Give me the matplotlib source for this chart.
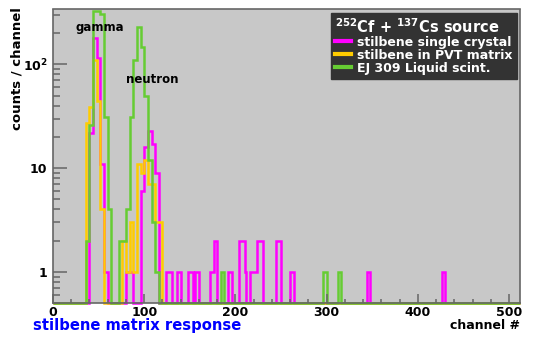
import numpy as np
import matplotlib
matplotlib.use("Agg")
import matplotlib.pyplot as plt
from matplotlib.lines import Line2D
from matplotlib.ticker import FixedLocator, FixedFormatter, MultipleLocator

# histogram contents: (first channel, last channel, counts per bin)
pink_runs = [
    (40, 44, 22), (44, 48, 178), (48, 52, 116), (52, 56, 11), (56, 60, 1),
    (80, 88, 1), (96, 100, 6), (100, 104, 16), (104, 108, 23), (108, 112, 17),
    (112, 116, 9), (124, 130, 1), (136, 140, 1), (148, 154, 1), (156, 160, 1),
    (172, 176, 1), (176, 180, 2), (192, 196, 1), (204, 210, 2), (210, 212, 1),
    (216, 224, 1), (224, 230, 2), (244, 250, 2), (260, 264, 1), (344, 348, 1),
    (426, 430, 1),
]
orange_runs = [
    (36, 40, 27), (40, 44, 39), (44, 48, 111), (48, 52, 44), (52, 56, 4),
    (76, 80, 2), (80, 84, 1), (84, 88, 3), (88, 92, 1), (92, 96, 11),
    (96, 100, 9), (100, 104, 12), (104, 112, 7), (112, 120, 3),
]
green_runs = [
    (36, 40, 2), (40, 44, 26), (44, 52, 330), (52, 56, 305), (56, 60, 31),
    (60, 64, 4), (72, 80, 2), (80, 84, 4), (84, 88, 31), (88, 92, 110),
    (92, 96, 230), (96, 100, 148), (100, 104, 50), (104, 108, 12),
    (108, 112, 3), (112, 116, 1), (184, 188, 1), (296, 300, 1), (312, 316, 1),
]
series_labels = ["stilbene single crystal", "stilbene in PVT matrix", "EJ 309 Liquid scint."]
series_colors = ["#ff00ff", "#ffcc00", "#66cc33"]
legend_title = r"$^{252}$Cf + $^{137}$Cs source"

bin_width = 2
n_channels = 512
y_min, y_max = 0.5, 338

edges = np.arange(0, n_channels + bin_width, bin_width)


def fill_hist(runs):
    counts = np.zeros(len(edges) - 1)
    for lo, hi, c in runs:
        counts[lo // bin_width:hi // bin_width] = c
    return counts


plt.rcParams["font.weight"] = "bold"
plt.rcParams["mathtext.default"] = "bf"

fig = plt.figure(figsize=(5.35, 3.4), dpi=100)
ax = fig.add_axes([53 / 535, 37 / 340, 467 / 535, 293.5 / 340])
ax.set_facecolor("#c8c8c8")

for runs, col in zip([pink_runs, orange_runs, green_runs], series_colors):
    counts = fill_hist(runs)
    shown = np.where(counts > 0, counts, y_min)
    ax.stairs(shown, edges, baseline=None, color=col, lw=1.8, clip_on=False)

ax.set_yscale("log")
ax.set_xlim(0, n_channels)
ax.set_ylim(y_min, y_max)

ax.xaxis.set_major_locator(MultipleLocator(100))
ax.xaxis.set_minor_locator(MultipleLocator(20))
ax.yaxis.set_major_locator(FixedLocator([1, 10, 100]))
ax.yaxis.set_major_formatter(FixedFormatter(["1", "10", "$10^2$"]))
ax.tick_params(axis="both", which="both", direction="in", color="#666666", width=1.1,
               labelsize=9)
ax.tick_params(axis="x", which="major", length=6.5, pad=2)
ax.tick_params(axis="x", which="minor", length=3)
ax.tick_params(axis="y", which="major", length=10, pad=4)
ax.tick_params(axis="y", which="minor", length=5)
for sp in ax.spines.values():
    sp.set_color("#666666")
    sp.set_linewidth(1.2)

ax.set_ylabel("counts / channel", fontsize=9.5, fontweight="bold", loc="top")
ax.yaxis.set_label_coords(-0.064, 1.008)
ax.set_xlabel("channel #", fontsize=9, fontweight="bold", loc="right")
ax.xaxis.set_label_coords(1.0, -0.055)

fig.text(33 / 535, 1 - 330 / 340, "stilbene matrix response", color="#0000ff",
         fontsize=10.6, fontweight="bold", va="baseline")

ax.text(0.049, 0.927, "gamma", transform=ax.transAxes, fontsize=8.5, fontweight="bold")
ax.text(0.156, 0.75, "neutron", transform=ax.transAxes, fontsize=8.5, fontweight="bold")

handles = [Line2D([], [], color=c, lw=3) for c in series_colors]
leg = ax.legend(handles, series_labels, title=legend_title, loc="upper right",
                bbox_to_anchor=(0.993, 0.989), borderaxespad=0, frameon=True,
                facecolor="#333333", edgecolor="#333333", framealpha=1, fancybox=False,
                labelcolor="white", prop=dict(weight="bold", size=9),
                title_fontproperties=dict(weight="bold", size=10.5),
                handlelength=1.3, handletextpad=0.45, labelspacing=0.0,
                borderpad=0.35, alignment="left")
leg.get_title().set_color("white")

fig.savefig("out.png", dpi=100)
